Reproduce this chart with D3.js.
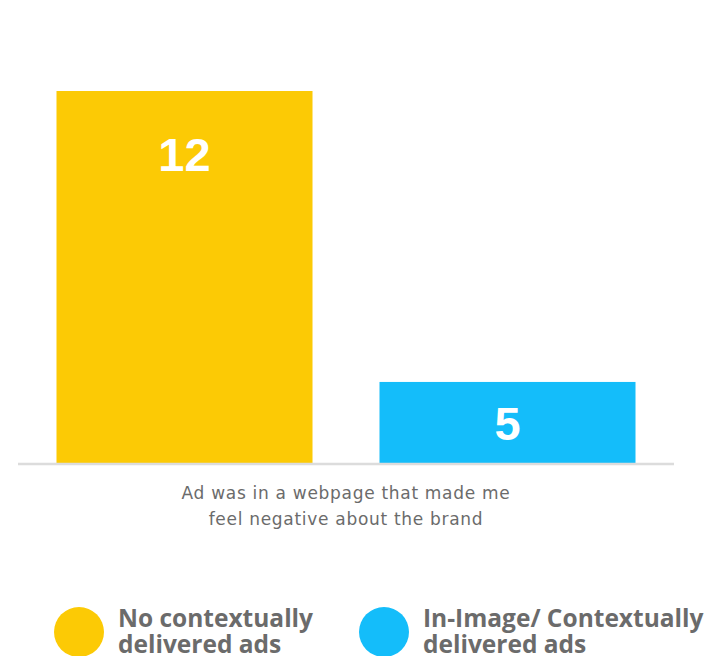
<!DOCTYPE html>
<html>
<head>
<meta charset="utf-8">
<script src="https://cdn.jsdelivr.net/npm/d3@7"></script>
<style>
  html, body { margin: 0; padding: 0; background: #fff; }
  svg { display: block; }
</style>
</head>
<body>
<svg id="chart" width="708" height="656"></svg>
<script>
// Data
const series = ["No contextually delivered ads", "In-Image/ Contextually delivered ads"];
const seriesLines = [["No contextually", "delivered ads"], ["In-Image/ Contextually", "delivered ads"]];
const values = [12, 5];
const colors = ["#fcca05", "#14bdfa"];
const categoryLines = ["Ad was in a webpage that made me", "feel negative about the brand"];

const svg = d3.select("#chart");

const x = d3.scaleBand()
  .domain(series)
  .range([18, 674])
  .paddingInner(0.2074)
  .paddingOuter(0.1192);

// value axis starts above zero
const y = d3.scaleLinear()
  .domain([3.05, 12])
  .range([463, 91]);

const base = y.range()[0];

// bars
svg.selectAll("rect.bar")
  .data(values)
  .join("rect")
  .attr("class", "bar")
  .attr("x", (d, i) => x(series[i]))
  .attr("width", x.bandwidth())
  .attr("y", d => y(d))
  .attr("height", d => base - y(d))
  .attr("fill", (d, i) => colors[i]);

// value labels inside bars: near the top, or centred for short bars
svg.selectAll("text.val")
  .data(values)
  .join("text")
  .attr("class", "val")
  .attr("x", (d, i) => x(series[i]) + x.bandwidth() / 2)
  .attr("y", d => Math.min(y(d) + 80, (y(d) + base) / 2 + 18))
  .attr("text-anchor", "middle")
  .attr("font-family", "Liberation Sans, Arial, sans-serif")
  .attr("font-weight", "bold")
  .attr("font-size", 47)
  .attr("fill", "#fff")
  .text(d => d);

// baseline
svg.append("line")
  .attr("x1", 18).attr("x2", 674)
  .attr("y1", 464).attr("y2", 464)
  .attr("stroke", "#dcdcdc")
  .attr("stroke-width", 2.5);

// category label
const cat = svg.append("text")
  .attr("text-anchor", "middle")
  .attr("font-family", "'DejaVu Sans', sans-serif")
  .attr("font-size", 17)
  .attr("letter-spacing", 0.7)
  .attr("fill", "#6b6b6b");
categoryLines.forEach((t, i) => {
  cat.append("tspan").attr("x", 346).attr("y", 499 + i * 26).text(t);
});

// legend
const legendX = [79, 384];
const lg = svg.selectAll("g.legend")
  .data(series)
  .join("g")
  .attr("class", "legend")
  .attr("transform", (d, i) => `translate(${legendX[i]},632)`);

lg.append("circle")
  .attr("r", 25)
  .attr("fill", (d, i) => colors[i]);

lg.append("text")
  .attr("font-family", "'Open Sans', Lato, sans-serif")
  .attr("font-weight", "bold")
  .attr("font-size", 24.5)
  .attr("fill", "#6b6b6b")
  .each(function(d, i) {
    const t = d3.select(this);
    seriesLines[i].forEach((line, j) => {
      t.append("tspan").attr("x", 39).attr("y", -5 + j * 26).text(line);
    });
  });
</script>
</body>
</html>
